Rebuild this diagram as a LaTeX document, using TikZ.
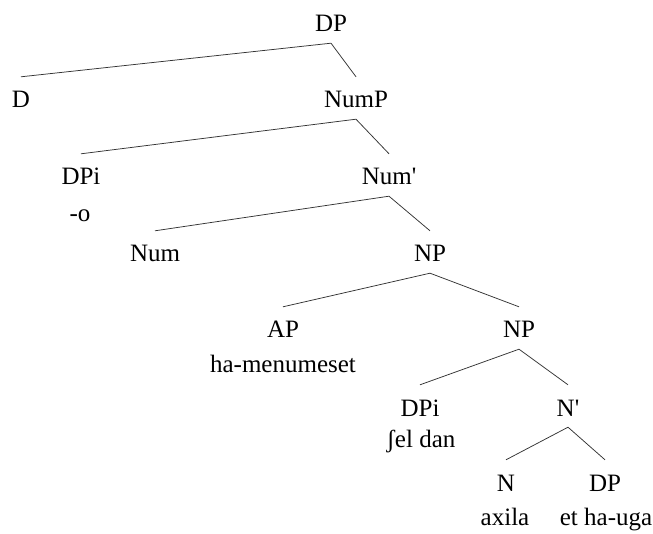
\documentclass[tikz,border=0pt]{standalone}
\usepackage{fontspec}
\setmainfont{Liberation Serif}
\usetikzlibrary{calc}
\begin{document}
\begin{tikzpicture}[x=1pt,y=-1pt,
  cat/.style={anchor=base,font=\fontsize{25}{30}\selectfont,text height=18pt,text depth=7pt,inner xsep=0pt,inner ysep=4pt},
  word/.style={anchor=base,font=\fontsize{25}{30}\selectfont,inner sep=0pt},
  branch/.style={line width=0.75pt,black!80}]
  \useasboundingbox (0,0) rectangle (653,534);
  % categories
  \node[cat] (dp) at (331,32) {DP};
  \node[cat] (d) at (21,108) {D};
  \node[cat] (nump) at (356,108) {NumP};
  \node[cat] (dpi) at (81,185) {DPi};
  \node[cat] (numbar) at (389,185) {Num\textquotesingle};
  \node[cat] (num) at (155,262) {Num};
  \node[cat] (np) at (430,262) {NP};
  \node[cat] (ap) at (283,338) {AP};
  \node[cat] (npb) at (519,338) {NP};
  \node[cat] (dpib) at (420,416) {DPi};
  \node[cat] (nbar) at (568,416) {N\textquotesingle};
  \node[cat] (n) at (506,491) {N};
  \node[cat] (dpc) at (605,491) {DP};
  % words
  \node[word] (o) at (80,222) {-o};
  \node[word] (menumeset) at (283,373) {ha-menumeset};
  \node[word] (seldan) at (421,447) {ʃel dan};
  \node[word] (axila) at (505,525) {axila};
  \node[word] (hauga) at (606,525) {et ha-uga};
  % branches
  \draw[branch] (dp.south) -- ([yshift=9pt]d.north);
  \draw[branch] (dp.south) -- ([yshift=9pt]nump.north);
  \draw[branch] (nump.south) -- ([yshift=9pt]dpi.north);
  \draw[branch] (nump.south) -- ([yshift=9pt]numbar.north);
  \draw[branch] (numbar.south) -- ([yshift=9pt]num.north);
  \draw[branch] (numbar.south) -- ([yshift=9pt]np.north);
  \draw[branch] (np.south) -- ([yshift=9pt]ap.north);
  \draw[branch] (np.south) -- ([yshift=9pt]npb.north);
  \draw[branch] (npb.south) -- ([yshift=9pt]dpib.north);
  \draw[branch] (npb.south) -- ([yshift=9pt]nbar.north);
  \draw[branch] (nbar.south) -- ([yshift=9pt]n.north);
  \draw[branch] (nbar.south) -- ([yshift=9pt]dpc.north);
\end{tikzpicture}
\end{document}
